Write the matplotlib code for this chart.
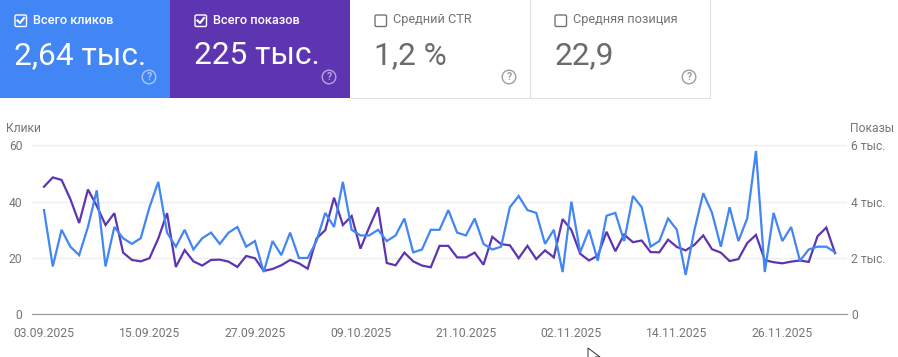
import matplotlib
matplotlib.use("Agg")
import matplotlib.pyplot as plt
from matplotlib.patches import Rectangle, FancyBboxPatch, Circle, Polygon

plt.rcParams['font.family'] = ['Roboto', 'DejaVu Sans']

W, H = 898, 357
BLUE = "#4285f4"
PURPLE = "#5e35b1"
GREY = "#757575"

# Значения с графика
clicks = [37, 17, 30, 24, 21, 31, 44, 17, 31, 27, 25, 27, 38, 47, 29, 24, 30, 23, 27, 29,
          25, 29, 31, 24, 26, 15, 26, 21, 29, 20, 20, 26, 36, 31, 47, 30, 28, 28, 30, 26,
          28, 34, 22, 23, 30, 30, 37, 29, 28, 34, 25, 23, 24, 38, 42, 37, 36, 25, 30, 15,
          40, 22, 30, 19, 35, 36, 26, 42, 38, 24, 26, 34, 30, 14, 30, 43, 36, 24, 38, 26,
          34, 58, 15, 36, 26, 31, 19, 23, 24, 24, 22]
shows = [4.53, 4.86, 4.77, 4.09, 3.24, 4.43, 3.85, 3.17, 3.59, 2.19, 1.93, 1.88, 1.99, 2.69, 3.59,
         1.68, 2.28, 1.88, 1.73, 1.93, 1.94, 1.87, 1.68, 2.07, 1.99, 1.54, 1.61, 1.74, 1.93, 1.81,
         1.62, 2.69, 2.99, 4.14, 3.17, 3.49, 2.33, 3.09, 3.80, 1.82, 1.74, 2.19, 1.88, 1.73, 1.67,
         2.43, 2.43, 2.02, 2.02, 2.19, 1.76, 2.75, 2.49, 2.45, 1.99, 2.43, 1.96, 2.27, 2.02, 3.38,
         2.99, 2.15, 1.91, 2.08, 2.93, 2.24, 2.83, 2.56, 2.62, 2.21, 2.20, 2.65, 2.39, 2.27, 2.47,
         2.80, 2.31, 2.19, 1.89, 1.96, 2.53, 2.82, 1.92, 1.85, 1.81, 1.87, 1.91, 1.86, 2.77, 3.08,
         2.17]
date_labels = ["03.09.2025", "15.09.2025", "27.09.2025", "09.10.2025", "21.10.2025",
               "02.11.2025", "14.11.2025", "26.11.2025"]
date_pos = [0, 12, 24, 36, 48, 60, 72, 84]
left_ticks = [0, 20, 40, 60]
right_ticks = [0, 2, 4, 6]
right_labels = ["0", "2 тыс.", "4 тыс.", "6 тыс."]

tile_titles = ["Всего кликов", "Всего показов", "Средний CTR", "Средняя позиция"]
tile_values = ["2,64 тыс.", "225 тыс.", "1,2 %", "22,9"]
tile_edges = [0, 170, 350, 530, 710]
tile_pad = [14, 24, 24, 24]
tile_colors = [BLUE, PURPLE, "white", "white"]
tile_checked = [True, True, False, False]

fig = plt.figure(figsize=(W / 100, H / 100), dpi=100)

# Слой в пикселях для плиток
bg = fig.add_axes([0, 0, 1, 1])
bg.set_xlim(0, W)
bg.set_ylim(H, 0)
bg.axis("off")

for i in range(4):
    x0, x1 = tile_edges[i], tile_edges[i + 1]
    bg.add_patch(Rectangle((x0, 0), x1 - x0, 98, fc=tile_colors[i], ec="none"))
    on = tile_checked[i]
    px = x0 + tile_pad[i]
    # Рамка чекбокса
    bg.add_patch(FancyBboxPatch((px + 1, 15), 11.5, 11.5, boxstyle="round,pad=0,rounding_size=1.5",
                                fc="none", ec="white" if on else GREY, lw=1.0))
    if on:
        bg.plot([px + 3.5, px + 6, px + 10], [20.5, 23, 18], color="white", lw=1.5)
    bg.text(px + 19, 20, tile_titles[i], color="white" if on else GREY, fontsize=9.2,
            va="center", ha="left", fontweight="medium" if on else "normal")
    bg.text(px + 0.5, 55.5, tile_values[i], color="white" if on else "#6b6b6b", fontsize=22.8,
            va="center", ha="left")
    # Значок справки
    hc = "#ffffff" if on else "#9e9e9e"
    hx = x1 - 21
    bg.add_patch(Circle((hx, 77), 6.8, fc="none", ec=hc, lw=1.0, alpha=0.55 if on else 1))
    bg.text(hx, 77.3, "?", color=hc, fontsize=7.5, ha="center", va="center",
            alpha=0.55 if on else 1, fontweight="bold")

# Границы белых плиток
bg.plot([350, 710, 710], [98, 98, 0], color="#e0e0e0", lw=0.8)
bg.plot([529.5, 529.5], [0, 98], color="#e0e0e0", lw=0.8)

# Курсор
bg.add_patch(Polygon([(588, 348), (588, 362), (592, 358), (595, 364), (598, 363), (595, 357), (600, 357)],
                     closed=True, fc="white", ec="#333333", lw=0.7))

# График
PL, PR, PT, PB = 32, 847, 145.3, 314.3
ax = fig.add_axes([PL / W, 1 - PB / H, (PR - PL) / W, (PB - PT) / H])
ax.patch.set_alpha(0)
ax2 = ax.twinx()
ax.set_zorder(2)
ax2.set_zorder(1)

ax2.plot(range(len(shows)), shows, color=PURPLE, lw=1.6, solid_joinstyle="miter", zorder=3)
ax.plot(range(len(clicks)), clicks, color=BLUE, lw=1.6, solid_joinstyle="miter", zorder=4)

ax.set_xlim(-12 / 8.79, (PR - 44) / 8.79)
ax.set_ylim(0, 60)
ax2.set_ylim(0, 6)

ax.set_yticks(left_ticks)
ax2.set_yticks(right_ticks)
ax2.set_yticklabels(right_labels)
ax.set_xticks(date_pos)
ax.set_xticklabels(date_labels)
ax.tick_params(axis="both", length=0, labelsize=8.7, labelcolor=GREY)
ax2.tick_params(axis="y", length=0, labelsize=8.7, labelcolor=GREY, pad=3)
ax.tick_params(axis="x", pad=9)
ax.tick_params(axis="y", pad=7)

for s in ["top", "left", "right"]:
    ax.spines[s].set_visible(False)
for s in ax2.spines.values():
    s.set_visible(False)
ax.spines["bottom"].set_color("#9e9e9e")
ax.spines["bottom"].set_linewidth(0.9)
ax2.grid(axis="y", color="#eeeeee", lw=1.0)
ax2.set_axisbelow(True)

bg.text(6, 129, "Клики", color=GREY, fontsize=8.7, va="center", ha="left")
bg.text(850, 129, "Показы", color=GREY, fontsize=8.7, va="center", ha="left")

fig.savefig("out.png", dpi=100)
